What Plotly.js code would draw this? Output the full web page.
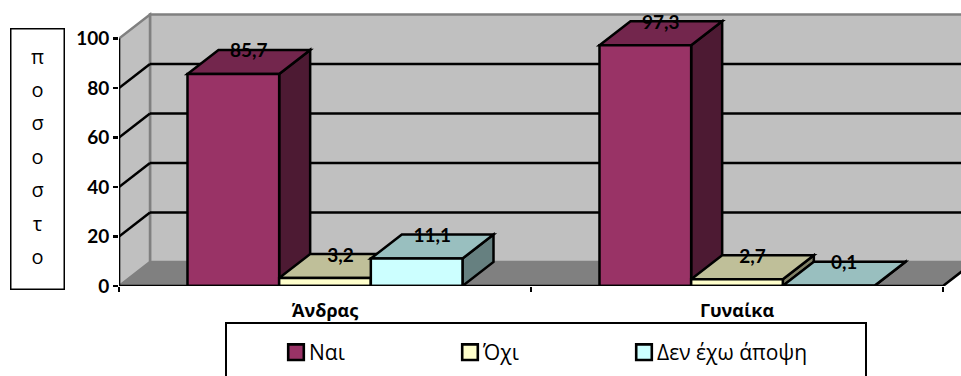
<!DOCTYPE html>
<html><head><meta charset="utf-8">
<script src="https://cdn.plot.ly/plotly-3.0.1.min.js"></script>
<style>html,body{margin:0;padding:0;background:#fff}#c{width:961px;height:376px}</style>
</head><body><div id="c"></div>
<script>
const categories = ["Άνδρας", "Γυναίκα"];
const seriesNames = ["Ναι", "Όχι", "Δεν έχω άποψη"];
const nai = [85.7, 97.3];
const ochi = [3.2, 2.7];
const denExo = [11.1, 0.1];
const yTicks = [0, 20, 40, 60, 80, 100];
const frontColors = ["#993366", "#FFFFCC", "#CCFFFF"];
const topColors = ["#73264D", "#BFBF99", "#99BFBF"];
const sideColors = ["#4D1A33", "#808066", "#668080"];
const yTitleLetters = ["π","ο","σ","ο","σ","τ","ο"];

const series = [nai, ochi, denExo];
const xs = categories.map((_, i) => i + 0.5);
const barW = 0.2225, depthX = 31 / 412, depthY = 24 / 2.475;
const xMax = 2, xEnd = 842 / 412, yEnd = 286 / 2.475;

function poly(pts, fill, lineColor, w) {
  const d = pts.map((p, i) => (i ? "L" : "M") + p[0] + "," + p[1]).join(" ") + " Z";
  return {type: "path", xref: "x", yref: "y", layer: "below", path: d, fillcolor: fill,
          line: {color: lineColor, width: w}};
}
function seg(x0, y0, x1, y1, color, w) {
  return {type: "line", xref: "x", yref: "y", layer: "below", x0, y0, x1, y1, line: {color, width: w}};
}
const shapes = [];
shapes.push(poly([[depthX,depthY],[xMax+depthX+1,depthY],[xMax+depthX+1,100+depthY],[depthX,100+depthY]], "#C0C0C0", "#808080", 2.5));
shapes.push(poly([[0,0],[depthX,depthY],[depthX,100+depthY],[0,100]], "#C0C0C0", "#808080", 2.5));
shapes.push(poly([[0,0],[xMax,0],[xMax+depthX,depthY],[depthX,depthY]], "#808080", "#808080", 1));
yTicks.filter(t => t > 0 && t < 100).forEach(t => {
  shapes.push(seg(0, t, depthX, t + depthY, "#000", 2.5));
  shapes.push(seg(depthX, t + depthY, xEnd, t + depthY, "#000", 2.5));
});
xs.forEach((c, g) => {
  series.forEach((vals, s) => {
    const x0 = c + (s - 1.5) * barW, x1 = x0 + barW, v = vals[g];
    shapes.push(poly([[x1,0],[x1+depthX,depthY],[x1+depthX,v+depthY],[x1,v]], sideColors[s], "#000", 2.5));
    shapes.push(poly([[x0,v],[x1,v],[x1+depthX,v+depthY],[x0+depthX,v+depthY]], topColors[s], "#000", 2.5));
  });
});
shapes.push({type:"rect", xref:"paper", yref:"paper",
  x0:(226-119)/842, x1:(866-119)/842, y0:(286-385)/286, y1:(286-323)/286,
  fillcolor:"#fff", line:{color:"#000", width:2}, layer:"below"});

const traces = series.map((vals, s) => ({
  type: "bar", x: xs, y: vals, name: seriesNames[s], cliponaxis: false,
  marker: {color: frontColors[s], line: {color: "#000", width: 2.5}}, hoverinfo: "skip"
}));
traces.push({type:"scatter", mode:"lines", x:[0,0,xMax,xMax+depthX*0.6], y:[100,0,0,depthY*0.6],
  line:{color:"#000", width:2.5}, cliponaxis:false, showlegend:false, hoverinfo:"skip"});
const lx = [], ly = [], lt = [];
xs.forEach((c, g) => series.forEach((vals, s) => {
  lx.push(c + (s - 1) * barW + depthX / 2);
  ly.push(vals[g] + depthY - 1.1);
  lt.push(vals[g].toFixed(1).replace(".", ","));
}));
traces.push({type:"scatter", mode:"text", x:lx, y:ly, text:lt, textposition:"middle center",
  textfont:{family:"Lato, 'Open Sans', sans-serif", size:19, color:"#000", weight:700},
  cliponaxis:false, showlegend:false, hoverinfo:"skip"});

const layout = {
  width: 961, height: 376, paper_bgcolor: "#fff", plot_bgcolor: "rgba(0,0,0,0)",
  margin: {l: 119, r: 0, t: 0, b: 90, pad: 0},
  barmode: "group", bargap: 0.3325, bargroupgap: 0, showlegend: true,
  font: {family: "'Open Sans', sans-serif", color: "#000"},
  xaxis: {range: [0, xEnd], showgrid: false, zeroline: false, showline: false,
    tickmode: "array", tickvals: xs, ticktext: categories, ticks: "", ticklen: 0,
    ticklabelstandoff: 12, tickfont: {family:"'Open Sans', sans-serif", size: 18, weight: 700, color:"#000"},
    minor: {tickmode:"array", tickvals:[0,1,2], ticks:"outside", ticklen:5, tickwidth:2, tickcolor:"#000", showgrid:false}},
  yaxis: {range: [0, yEnd], showgrid: false, zeroline: false, showline: false,
    tickmode: "array", tickvals: yTicks, ticks: "outside", ticklen: 5, tickwidth: 2.5, tickcolor:"#000",
    tickfont: {family:"Lato, sans-serif", size: 19, weight: 700, color:"#000"}},
  shapes,
  legend: {orientation:"h", x:(269-119)/842, xanchor:"left", y:(286-332)/286, yanchor:"top",
    entrywidthmode:"pixels", entrywidth:129, bgcolor:"rgba(0,0,0,0)", borderwidth:0,
    font:{family:"'Open Sans', sans-serif", size:21, color:"#000"}, traceorder:"normal", itemclick:false, itemdoubleclick:false},
  annotations: [{
    xref:"paper", yref:"paper", x:(37-119)/842, y:(286-158.5)/286, xanchor:"center", yanchor:"middle",
    text: yTitleLetters.map(l => '<span style="font-size:20px">' + l + '</span>').join("<br>"),
    showarrow:false, width:26, height:233, align:"center", valign:"top",
    bordercolor:"#000", borderwidth:1.5, borderpad:13, bgcolor:"#fff",
    font:{family:"'Open Sans', sans-serif", size:25.7, color:"#000"}
  }]
};
Plotly.newPlot("c", traces, layout, {displayModeBar:false, staticPlot:true}).then(() => {
  document.querySelectorAll("#c .legendpoints path").forEach(p => {
    const t = p.getAttribute("transform") || "";
    p.setAttribute("transform", t + " translate(7,0) scale(1.3)");
    p.style.strokeWidth = "2px";
  });
  document.querySelectorAll("#c .legend .scrollbox").forEach(b => {
    b.removeAttribute("clip-path");
    b.style.clipPath = "none";
  });
  document.querySelectorAll("#c .legend .legendtoggle").forEach(b => b.remove());
});
</script></body></html>
